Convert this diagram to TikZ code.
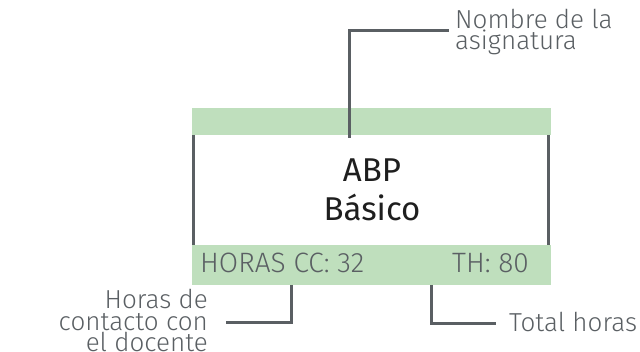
\documentclass[tikz,border=0pt]{standalone}
\usepackage{fontspec}
\setmainfont{Fira Sans}
\newfontfamily\lightf{Fira Sans Light}
\definecolor{barg}{HTML}{BFDFBD}
\definecolor{lineg}{HTML}{5A5F63}
\definecolor{txtg}{HTML}{5A5F63}
\definecolor{txtk}{HTML}{1E1E1E}
\begin{document}
\begin{tikzpicture}[x=1pt,y=-1pt,
  leader/.style={draw=lineg,line width=3pt},
  lbl/.style={inner sep=0pt,text=txtg,font=\lightf\fontsize{26}{21.5}\selectfont,align=left},
  bartxt/.style={inner sep=0pt,text=txtg,font=\lightf\fontsize{28}{28}\selectfont,anchor=base west}]
\useasboundingbox (0,0) rectangle (640,352);
% bars
\fill[barg] (192,108) rectangle (551,135);
\fill[barg] (192,245) rectangle (551,285);
\draw[leader] (193,135) -- (193,245);
\draw[leader] (548,135) -- (548,245);
% title
\node[inner sep=0pt,text=txtk,font=\fontsize{33}{39}\selectfont,align=center,anchor=base] (title) at (372,221) {ABP\\Básico};
% bar texts
\node[bartxt] (hcc) at (200,273) {HORAS CC: 32};
\node[bartxt] (th) at (452,273) {TH: 80};
% labels
\node[lbl,anchor=base west] (nombre) at (455,50) {Nombre de la\\asignatura};
\node[lbl,anchor=base east,align=right] (horas) at (208,352) {Horas de\\contacto con\\el docente};
\node[lbl,anchor=base west] (total) at (509,332) {Total horas};
% leaders
\coordinate (t0) at (349,138);
\coordinate (t1) at (449,31);
\draw[leader] (t0) |- (t1);
\coordinate (l0) at (291,285);
\coordinate (l1) at (226,323);
\draw[leader] (l0) |- (l1);
\coordinate (r0) at (431,285);
\coordinate (r1) at (496,324);
\draw[leader] (r0) |- (r1);
\end{tikzpicture}
\end{document}
